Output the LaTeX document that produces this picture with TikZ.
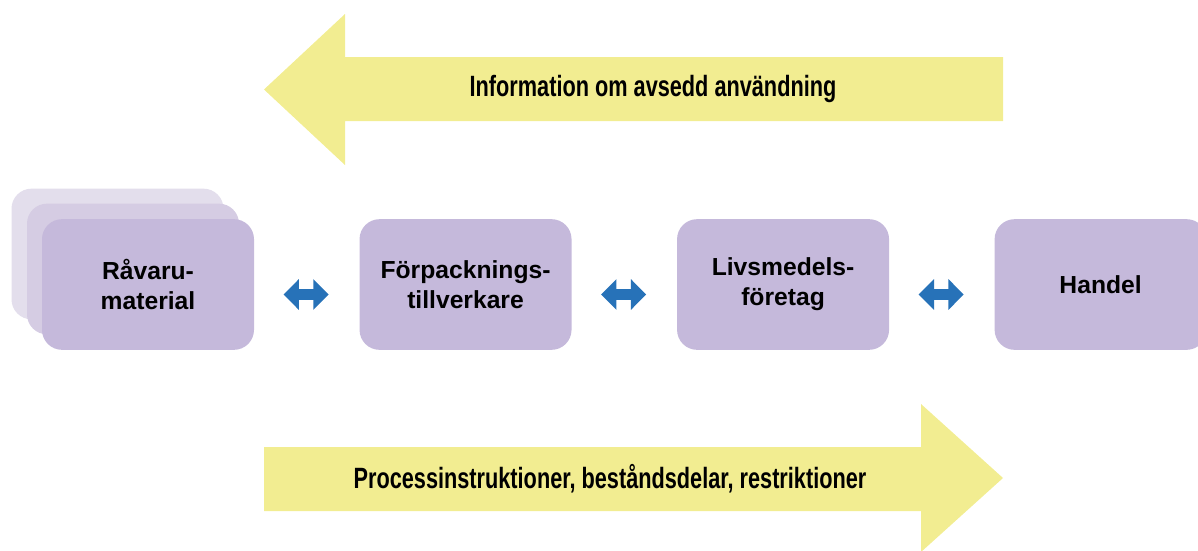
\documentclass[tikz,border=0pt]{standalone}
\usepackage{fontspec}
\setmainfont{Liberation Sans}
\newfontfamily\condfont[FakeStretch=0.74]{Liberation Sans}
\usetikzlibrary{arrows.meta, positioning}
\definecolor{lilac}{RGB}{197,185,219}
\definecolor{lilacmid}{RGB}{213,204,227}
\definecolor{lilaclight}{RGB}{227,222,236}
\definecolor{flowyellow}{RGB}{242,237,145}
\definecolor{linkblue}{RGB}{39,114,184}
\tikzstyle{stage} = [rectangle, rounded corners=15pt, minimum width=159pt, minimum height=98pt, align=center, fill=lilac, font=\bfseries\fontsize{18.5}{22.5}\selectfont]
\tikzstyle{flowtext} = [font=\condfont\bfseries\fontsize{22}{26}\selectfont]
\tikzstyle{link} = [draw=linkblue, line width=8.25pt, {Triangle[width=22.5pt,length=11.5pt]}-{Triangle[width=22.5pt,length=11.5pt]}]

\begin{document}
\begin{tikzpicture}[x=0.75pt, y=-0.75pt]
\useasboundingbox (0,0) rectangle (1198,550);
% big flow arrows
\fill[flowyellow] (264,89.5) -- (345,14) -- (345,57) -- (1003,57) -- (1003,121) -- (345,121) -- (345,165) -- cycle;
\node (info) [flowtext] at (653,89) {Information om avsedd användning};
\fill[flowyellow] (264,447) -- (921,447) -- (921,404) -- (1003,478) -- (921,552) -- (921,511) -- (264,511) -- cycle;
\node (proc) [flowtext] at (610,479) {Processinstruktioner, beståndsdelar, restriktioner};
% stages
\node (rawback) [stage, fill=lilaclight] at (117.5,254) {};
\node (rawmid) [stage, fill=lilacmid] at (133,269) {};
\node (raw) [stage] at (148,284.5) {Råvaru-\\material};
\node (forp) [stage, right=78.75pt of raw] {Förpacknings-\\tillverkare};
\node (livs) [stage, right=78.75pt of forp] {Livsmedels-\\företag};
\node (handel) [stage, right=78.75pt of livs] {Handel};
\draw[link] ([xshift=22pt,yshift=-7.5pt]raw.east) -- ([xshift=-23pt,yshift=-7.5pt]forp.west);
\draw[link] ([xshift=22pt,yshift=-7.5pt]forp.east) -- ([xshift=-23pt,yshift=-7.5pt]livs.west);
\draw[link] ([xshift=22pt,yshift=-7.5pt]livs.east) -- ([xshift=-23pt,yshift=-7.5pt]handel.west);
\end{tikzpicture}
\end{document}
